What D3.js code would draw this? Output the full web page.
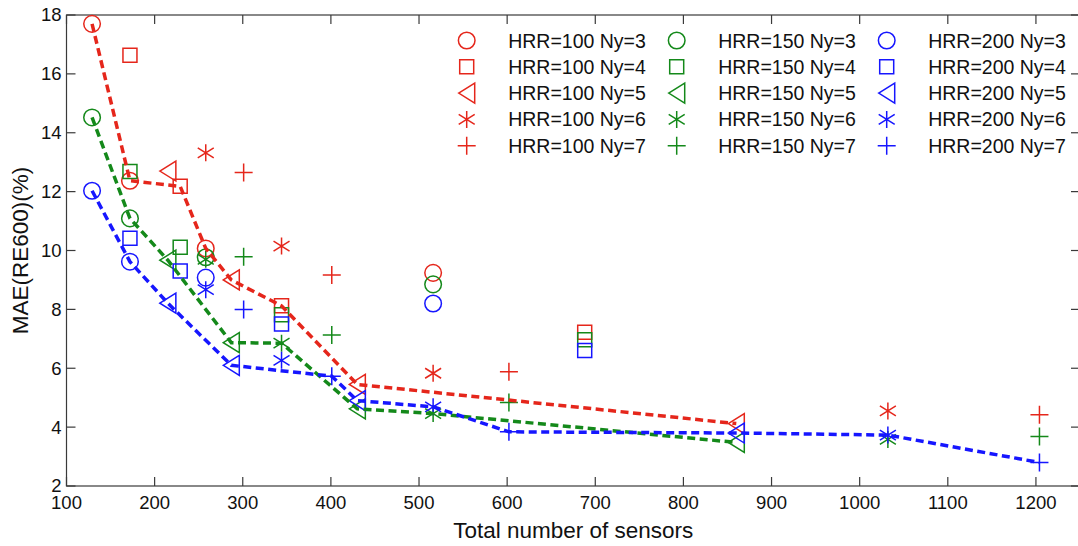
<!DOCTYPE html>
<html lang="en">
<head>
    <meta charset="UTF-8">
    <title>MAE vs total number of sensors</title>
    <script src="https://d3js.org/d3.v7.min.js"></script>
    <style>
        body { margin: 0; background: #fff; }
        text { font-family: "Liberation Sans", Arial, sans-serif; fill: #111; }
        .frame { fill: none; stroke: #3a3a3a; stroke-width: 1.2; }
        .tick-mark { stroke: #3a3a3a; stroke-width: 1.2; }
        .front { fill: none; stroke-width: 3.5; stroke-dasharray: 8 4.5; }
        .marker { fill: none; stroke-width: 1.5; }
    </style>
</head>
<body>
    <script>
        // Ny levels and the total sensor counts each Ny was run at
        const nyLevels = [3, 4, 5, 6, 7];
        const sensorsNy3 = [129, 172, 258, 516];
        const sensorsNy4 = [172, 229, 344, 688];
        const sensorsNy5 = [215, 287, 430, 860];
        const sensorsNy6 = [258, 344, 516, 1032];
        const sensorsNy7 = [301, 401, 602, 1204];

        // MAE(RE600) in %, one row per Ny (3..7)
        const maeHRR100 = [
            [17.7, 12.37, 10.07, 9.24],
            [16.63, 12.18, 8.12, 7.22],
            [12.7, 9.0, 5.45, 4.12],
            [13.32, 10.15, 5.83, 4.55],
            [12.65, 9.17, 5.88, 4.42]
        ];
        const maeHRR150 = [
            [14.52, 11.09, 9.77, 8.85],
            [12.68, 10.11, 7.82, 6.97],
            [9.67, 6.87, 4.62, 3.48],
            [9.7, 6.85, 4.46, 3.58],
            [9.79, 7.13, 4.84, 3.68]
        ];
        const maeHRR200 = [
            [12.03, 9.62, 9.08, 8.2],
            [10.42, 9.3, 7.5, 6.6],
            [8.21, 6.1, 4.9, 3.8],
            [8.67, 6.27, 4.69, 3.73],
            [8.0, 5.73, 3.84, 2.8]
        ];

        const hrrLevels = [100, 150, 200];
        const hrrColors = ["#e5261b", "#14891a", "#1616ff"];
        const markerShapes = ["circle", "square", "triangle", "asterisk", "plus"];

        const xTicks = [100, 200, 300, 400, 500, 600, 700, 800, 900, 1000, 1100, 1200];
        const yTicks = [2, 4, 6, 8, 10, 12, 14, 16, 18];

        const width = 1078;
        const height = 546;
        const plotLeft = 66.5, plotTop = 15, plotRight = 1080, plotBottom = 486;

        const svg = d3.select("body").append("svg")
            .attr("width", width)
            .attr("height", height);

        const x = d3.scaleLinear().domain([100, 1250]).range([plotLeft, plotRight]);
        const y = d3.scaleLinear().domain([2, 18]).range([plotBottom, plotTop]);

        const sensorRows = [sensorsNy3, sensorsNy4, sensorsNy5, sensorsNy6, sensorsNy7];
        const maeTables = [maeHRR100, maeHRR150, maeHRR200];

        // flatten into points
        const points = [];
        maeTables.forEach((table, h) => {
            table.forEach((row, n) => {
                row.forEach((v, i) => {
                    points.push({ hrr: h, ny: n, sensors: sensorRows[n][i], mae: v });
                });
            });
        });

        // marker path generator, centred on 0,0
        function markerPath(shape) {
            const p = d3.path();
            if (shape === "circle") {
                p.moveTo(8.3, 0);
                p.arc(0, 0, 8.3, 0, 2 * Math.PI);
            } else if (shape === "square") {
                p.rect(-7, -7, 14, 14);
            } else if (shape === "triangle") {
                p.moveTo(-8, 0); p.lineTo(8, -10); p.lineTo(8, 10); p.closePath();
            } else if (shape === "asterisk") {
                p.moveTo(0, -8.5); p.lineTo(0, 8.5);
                p.moveTo(-8, -5); p.lineTo(8, 5);
                p.moveTo(-8, 5); p.lineTo(8, -5);
            } else {
                p.moveTo(-9, 0); p.lineTo(9, 0);
                p.moveTo(0, -9); p.lineTo(0, 9);
            }
            return p.toString();
        }

        // axes frame and inward ticks (MATLAB style box)
        svg.append("rect").attr("class", "frame")
            .attr("x", plotLeft).attr("y", plotTop)
            .attr("width", plotRight - plotLeft).attr("height", plotBottom - plotTop);

        const tickLen = 9;
        xTicks.forEach(t => {
            svg.append("line").attr("class", "tick-mark")
                .attr("x1", x(t)).attr("x2", x(t)).attr("y1", plotBottom).attr("y2", plotBottom - tickLen);
            svg.append("line").attr("class", "tick-mark")
                .attr("x1", x(t)).attr("x2", x(t)).attr("y1", plotTop).attr("y2", plotTop + tickLen);
            svg.append("text").attr("x", x(t)).attr("y", plotBottom + 23)
                .attr("text-anchor", "middle").style("font-size", "18.5px").text(t);
        });
        yTicks.forEach(t => {
            svg.append("line").attr("class", "tick-mark")
                .attr("x1", plotLeft).attr("x2", plotLeft + tickLen).attr("y1", y(t)).attr("y2", y(t));
            svg.append("line").attr("class", "tick-mark")
                .attr("x1", plotRight).attr("x2", plotRight - tickLen).attr("y1", y(t)).attr("y2", y(t));
            svg.append("text").attr("x", plotLeft - 5).attr("y", y(t)).attr("dy", "0.35em")
                .attr("text-anchor", "end").style("font-size", "18.5px").text(t);
        });

        // axis labels, centred on the axes box
        svg.append("text").attr("x", (plotLeft + plotRight) / 2).attr("y", 538)
            .attr("text-anchor", "middle").style("font-size", "22.5px")
            .text("Total number of sensors");
        svg.append("text")
            .attr("transform", `translate(28, ${(plotTop + plotBottom) / 2}) rotate(-90)`)
            .attr("text-anchor", "middle").style("font-size", "22.5px")
            .text("MAE(RE600)(%)");

        // scatter markers
        svg.append("g").selectAll("path")
            .data(points)
            .join("path")
            .attr("class", "marker")
            .attr("transform", d => `translate(${x(d.sensors)},${y(d.mae)})`)
            .attr("d", d => markerPath(markerShapes[d.ny]))
            .attr("stroke", d => hrrColors[d.hrr]);

        // dashed lower-envelope lines (lowest MAE reached so far) per HRR
        const line = d3.line().x(d => x(d.sensors)).y(d => y(d.mae));
        hrrLevels.forEach((hrr, h) => {
            const sorted = points.filter(d => d.hrr === h)
                .sort((a, b) => a.sensors - b.sensors || a.mae - b.mae);
            const front = [];
            let best = Infinity;
            sorted.forEach(d => {
                if (d.mae < best) { front.push(d); best = d.mae; }
            });
            svg.append("path").attr("class", "front")
                .attr("stroke", hrrColors[h])
                .attr("d", line(front));
        });

        // legend: three columns (HRR) by five rows (Ny)
        const legend = svg.append("g");
        hrrLevels.forEach((hrr, h) => {
            nyLevels.forEach((ny, n) => {
                const lx = 466.7 + h * 210;
                const ly = 40.5 + n * 26.3;
                legend.append("path").attr("class", "marker")
                    .attr("transform", `translate(${lx},${ly})`)
                    .attr("d", markerPath(markerShapes[n]))
                    .attr("stroke", hrrColors[h]);
                legend.append("text").attr("x", lx + 41.5).attr("y", ly).attr("dy", "0.36em")
                    .style("font-size", "19.5px")
                    .text(`HRR=${hrr} Ny=${ny}`);
            });
        });
    </script>
</body>
</html>
